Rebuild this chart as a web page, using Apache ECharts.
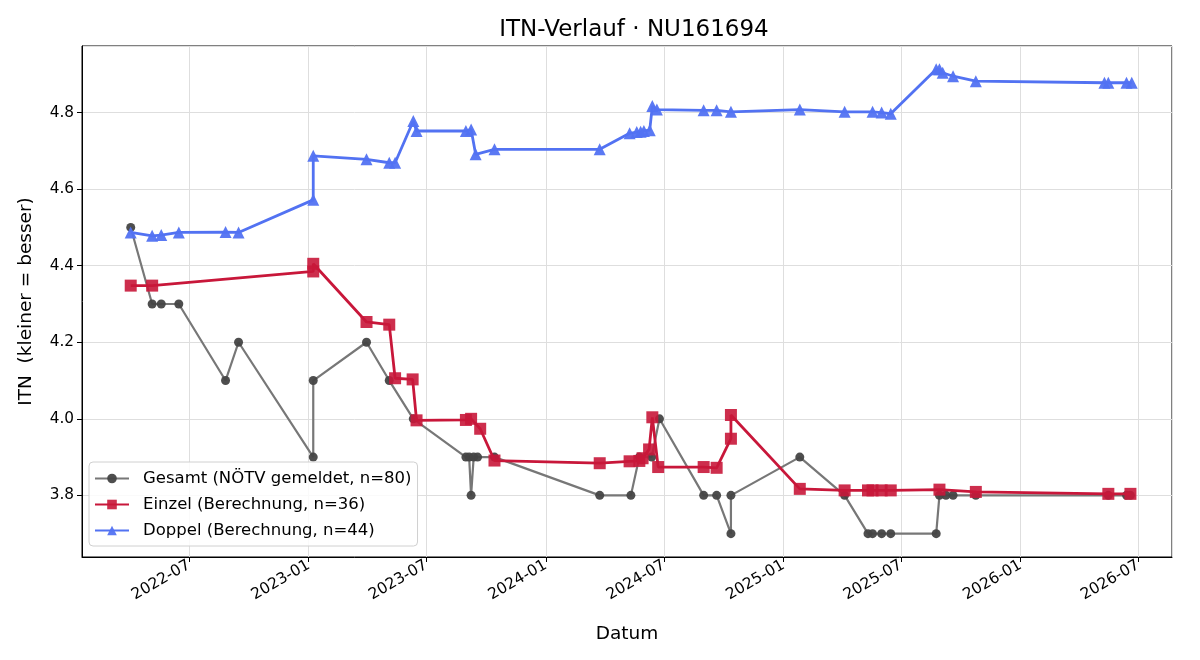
<!DOCTYPE html>
<html>
<head>
<meta charset="utf-8">
<title>ITN-Verlauf</title>
<script src="https://cdn.jsdelivr.net/npm/echarts@6/dist/echarts.min.js"></script>
<style>
  html, body { margin: 0; padding: 0; background: #fff; }
  #main { width: 1200px; height: 660px; }
</style>
</head>
<body>
<div id="main"></div>
<script>
// Gesamt (NÖTV gemeldet)
const gesamtDates = ['2022-04-02','2022-05-05','2022-05-19','2022-06-15','2022-08-26','2022-09-15',
  '2023-01-08','2023-01-08','2023-03-31','2023-05-05','2023-06-11','2023-08-31','2023-09-05',
  '2023-09-08','2023-09-12','2023-09-18','2023-10-14','2024-03-24','2024-05-11','2024-05-24',
  '2024-06-12','2024-06-24','2024-08-31','2024-09-20','2024-10-12','2024-10-12','2025-01-26',
  '2025-04-05','2025-05-11','2025-05-18','2025-06-01','2025-06-15','2025-08-24','2025-08-29',
  '2025-09-08','2025-09-19','2025-10-24','2026-05-16','2026-06-13','2026-06-19'];
const gesamtValues = [4.5,4.3,4.3,4.3,4.1,4.2,
  3.9,4.1,4.2,4.1,4.0,3.9,3.9,
  3.8,3.9,3.9,3.9,3.8,3.8,3.9,
  3.9,4.0,3.8,3.8,3.7,3.8,3.9,
  3.8,3.7,3.7,3.7,3.7,3.7,3.8,
  3.8,3.8,3.8,3.8,3.8,3.8];

// Einzel (Berechnung)
const einzelDates = ['2022-04-02','2022-05-05','2023-01-08','2023-01-08','2023-03-31','2023-05-05',
  '2023-05-14','2023-06-10','2023-06-16','2023-08-31','2023-09-08','2023-09-22','2023-10-14',
  '2024-03-24','2024-05-09','2024-05-24','2024-05-29','2024-06-08','2024-06-13','2024-06-22',
  '2024-08-31','2024-09-20','2024-10-12','2024-10-12','2025-01-26','2025-04-05','2025-05-11',
  '2025-05-18','2025-06-01','2025-06-15','2025-08-29','2025-10-24','2026-05-16','2026-06-19'];
const einzelValues = [4.348,4.348,4.385,4.405,4.253,4.246,
  4.106,4.103,3.996,3.997,4.000,3.974,3.891,
  3.884,3.889,3.890,3.897,3.920,4.004,3.874,
  3.874,3.872,3.948,4.010,3.817,3.813,3.813,
  3.813,3.813,3.813,3.815,3.809,3.804,3.804];

// Doppel (Berechnung)
const doppelDates = ['2022-04-02','2022-05-05','2022-05-19','2022-06-15','2022-08-26','2022-09-15',
  '2023-01-08','2023-01-08','2023-03-31','2023-05-05','2023-05-14','2023-06-11','2023-06-16',
  '2023-08-31','2023-09-08','2023-09-15','2023-10-14','2024-03-24','2024-05-09','2024-05-20',
  '2024-05-26','2024-05-31','2024-06-09','2024-06-13','2024-06-20','2024-08-31','2024-09-20',
  '2024-10-12','2025-01-26','2025-04-05','2025-05-18','2025-06-01','2025-06-15','2025-08-24',
  '2025-08-29','2025-09-03','2025-09-19','2025-10-24','2026-05-10','2026-05-16','2026-06-13',
  '2026-06-21'];
const doppelValues = [4.487,4.478,4.480,4.487,4.488,4.487,
  4.572,4.687,4.678,4.669,4.669,4.778,4.752,
  4.752,4.756,4.691,4.704,4.704,4.746,4.749,
  4.750,4.752,4.754,4.817,4.808,4.806,4.806,
  4.802,4.808,4.802,4.802,4.800,4.797,4.913,
  4.913,4.904,4.895,4.882,4.878,4.878,4.878,
  4.878];

const pairs = (d, v) => d.map((x, i) => [x, v[i]]);

const font = 'DejaVu Sans';
const chart = echarts.init(document.getElementById('main'));

const option = {
  animation: false,
  backgroundColor: '#fff',
  textStyle: { fontFamily: font },
  title: {
    text: 'ITN-Verlauf · NU161694',
    left: 629, top: 14, textAlign: 'center',
    textStyle: { fontFamily: font, fontSize: 23, fontWeight: 'normal', color: '#000' }
  },
  grid: {
    left: 82, right: 28, top: 46, bottom: 103,
    show: true, borderColor: '#000', borderWidth: 1, backgroundColor: 'transparent'
  },
  legend: {
    orient: 'vertical',
    left: 89, top: 462,
    padding: [8, 6, 7, 5],
    itemGap: 9,
    itemWidth: 34, itemHeight: 12,
    backgroundColor: 'rgba(255,255,255,0.85)',
    borderColor: '#d0d0d0', borderWidth: 1, borderRadius: 4,
    textStyle: { fontFamily: font, fontSize: 16.5, color: '#000', padding: [0, 0, 0, 9] },
    data: ['Gesamt (NÖTV gemeldet, n=80)', 'Einzel (Berechnung, n=36)', 'Doppel (Berechnung, n=44)']
  },
  xAxis: {
    type: 'time',
    min: '2022-01-17',
    max: '2026-08-22',
    splitNumber: 9,
    name: 'Datum',
    nameLocation: 'middle',
    nameGap: 68,
    nameTextStyle: { fontFamily: font, fontSize: 18.5, color: '#000' },
    axisLine: { show: true, lineStyle: { color: '#000', width: 1 } },
    axisTick: { show: true, length: 5, lineStyle: { color: '#000' } },
    axisLabel: {
      rotate: 30,
      margin: 7,
      fontFamily: font, fontSize: 15.5, color: '#000',
      showMinLabel: false, showMaxLabel: false,
      formatter: '{yyyy}-{MM}'
    },
    splitLine: { show: true, lineStyle: { color: '#dedede', width: 1 } }
  },
  yAxis: {
    type: 'value',
    min: 3.639,
    max: 4.974,
    splitNumber: 6,
    name: 'ITN  (kleiner = besser)',
    nameLocation: 'middle',
    nameGap: 46,
    nameTextStyle: { fontFamily: font, fontSize: 18.5, color: '#000' },
    axisLine: { show: true, lineStyle: { color: '#000', width: 1 } },
    axisTick: { show: true, length: 5, lineStyle: { color: '#000' } },
    axisLabel: {
      fontFamily: font, fontSize: 15.3, color: '#000',
      showMinLabel: false, showMaxLabel: false,
      formatter: v => (Math.abs(v * 5 - Math.round(v * 5)) < 1e-6 ? v.toFixed(1) : '')
    },
    splitLine: { show: true, lineStyle: { color: '#dedede', width: 1 } }
  },
  series: [
    {
      name: 'Gesamt (NÖTV gemeldet, n=80)',
      type: 'line',
      data: pairs(gesamtDates, gesamtValues),
      symbol: 'circle', symbolSize: 9, showAllSymbol: true,
      lineStyle: { color: '#777777', width: 2.2 },
      itemStyle: { color: '#444444', opacity: 0.95 },
      z: 2
    },
    {
      name: 'Einzel (Berechnung, n=36)',
      type: 'line',
      data: pairs(einzelDates, einzelValues),
      symbol: 'rect', symbolSize: 12, showAllSymbol: true,
      lineStyle: { color: '#c8173a', width: 2.8 },
      itemStyle: { color: '#c8173a', opacity: 0.9 },
      z: 3
    },
    {
      name: 'Doppel (Berechnung, n=44)',
      type: 'line',
      data: pairs(doppelDates, doppelValues),
      symbol: 'triangle', symbolSize: 12, showAllSymbol: true,
      lineStyle: { color: '#5272f2', width: 2.8 },
      itemStyle: { color: '#5272f2', opacity: 0.95 },
      z: 4
    }
  ]
};

chart.setOption(option);
</script>
</body>
</html>
